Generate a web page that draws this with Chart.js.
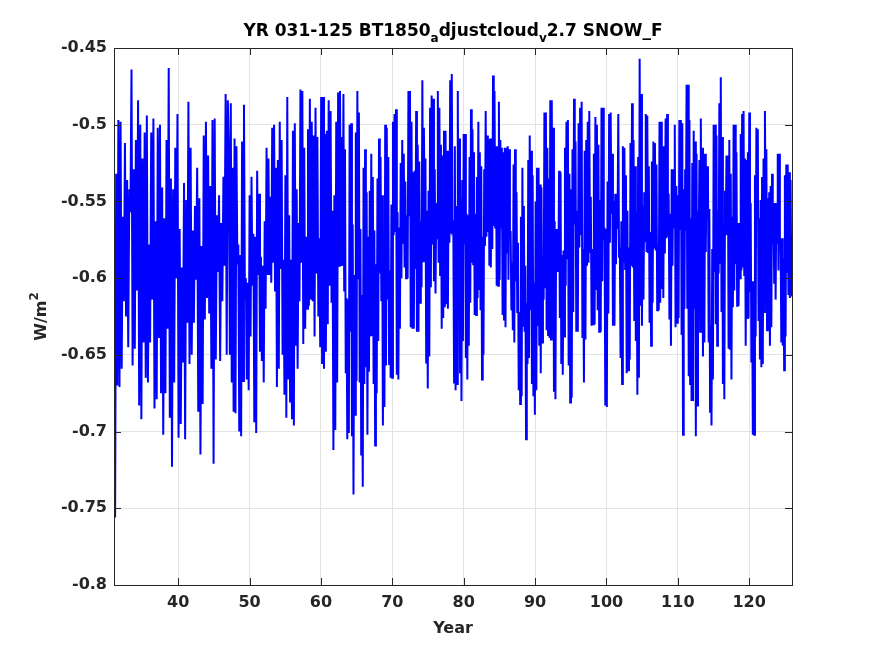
<!DOCTYPE html>
<html>
<head>
<meta charset="utf-8">
<script src="https://cdn.jsdelivr.net/npm/chart.js@4/dist/chart.umd.min.js"></script>
<style>
  body { margin: 0; background: #fff; }
  #wrap { width: 875px; height: 656px; }
</style>
</head>
<body>
<div id="wrap"><canvas id="snowChart" width="875" height="656"></canvas></div>
<script>
// segment edges in model years; values inside each segment are spread evenly
const segYears = [31.0, 47.1, 62.93, 78.76, 94.6, 110.43, 126.0];

const seg1 = [-0.676,
  -0.756, -0.532, -0.670, -0.497, -0.671, -0.498, -0.659, -0.560, -0.615, -0.512,
  -0.625, -0.536, -0.645, -0.542, -0.557, -0.464, -0.657, -0.529, -0.646, -0.510,
  -0.608, -0.484, -0.683, -0.500, -0.692, -0.522, -0.642, -0.505, -0.665, -0.494,
  -0.668, -0.578, -0.642, -0.505, -0.614, -0.496, -0.685, -0.563, -0.679, -0.502,
  -0.639, -0.500, -0.675, -0.541, -0.702, -0.561, -0.675, -0.510, -0.633, -0.463,
  -0.691, -0.535, -0.723, -0.542, -0.668, -0.515, -0.600, -0.493, -0.704, -0.568,
  -0.695, -0.593, -0.655, -0.538, -0.705, -0.549, -0.629, -0.485, -0.656, -0.515,
  -0.650, -0.569, -0.629, -0.553, -0.601, -0.528, -0.687, -0.548, -0.715, -0.579,
  -0.682, -0.507, -0.627, -0.498, -0.613, -0.520, -0.623, -0.540, -0.659, -0.497,
  -0.721, -0.496, -0.653, -0.559, -0.596, -0.546, -0.654, -0.564, -0.615, -0.534,
  -0.592, -0.480, -0.650, -0.484];

const seg2 = [
  -0.519, -0.650, -0.486, -0.668, -0.528, -0.687, -0.509, -0.688, -0.514, -0.591,
  -0.578, -0.700, -0.585, -0.703, -0.511, -0.667, -0.487, -0.612, -0.600, -0.666,
  -0.603, -0.673, -0.546, -0.638, -0.534, -0.605, -0.571, -0.694, -0.573, -0.701,
  -0.530, -0.598, -0.545, -0.648, -0.586, -0.654, -0.592, -0.668, -0.563, -0.620,
  -0.515, -0.598, -0.522, -0.598, -0.547, -0.603, -0.502, -0.590, -0.500, -0.608,
  -0.528, -0.671, -0.523, -0.659, -0.498, -0.594, -0.510, -0.650, -0.588, -0.676,
  -0.533, -0.691, -0.482, -0.666, -0.559, -0.681, -0.588, -0.692, -0.504, -0.696,
  -0.499, -0.644, -0.542, -0.659, -0.564, -0.615, -0.477, -0.590, -0.478, -0.643,
  -0.515, -0.633, -0.573, -0.620, -0.503, -0.618, -0.483, -0.614, -0.498, -0.615,
  -0.507, -0.638, -0.489, -0.597, -0.508, -0.625, -0.574, -0.645, -0.482, -0.656,
  -0.482, -0.659, -0.506, -0.648, -0.504, -0.630, -0.484, -0.605, -0.491, -0.616,
  -0.556, -0.712, -0.546, -0.699, -0.498, -0.668, -0.479, -0.592, -0.478, -0.592];

const seg3 = [
  -0.508, -0.592, -0.480, -0.608, -0.516, -0.662, -0.613, -0.705, -0.614, -0.701,
  -0.500, -0.635, -0.499, -0.703, -0.565, -0.741, -0.598, -0.689, -0.505, -0.667,
  -0.478, -0.600, -0.492, -0.668, -0.568, -0.715, -0.611, -0.736, -0.528, -0.669,
  -0.516, -0.658, -0.544, -0.702, -0.573, -0.661, -0.543, -0.638, -0.519, -0.637,
  -0.534, -0.669, -0.569, -0.709, -0.591, -0.675, -0.535, -0.641, -0.509, -0.597,
  -0.521, -0.615, -0.546, -0.696, -0.608, -0.684, -0.500, -0.657, -0.502, -0.614,
  -0.521, -0.656, -0.595, -0.665, -0.552, -0.665, -0.498, -0.572, -0.493, -0.570,
  -0.490, -0.663, -0.557, -0.666, -0.567, -0.633, -0.525, -0.600, -0.510, -0.577,
  -0.519, -0.593, -0.537, -0.600, -0.559, -0.600, -0.478, -0.559, -0.478, -0.632,
  -0.498, -0.633, -0.531, -0.633, -0.530, -0.594, -0.491, -0.635, -0.513, -0.635,
  -0.524, -0.616, -0.563, -0.606, -0.471, -0.589, -0.502, -0.570, -0.522, -0.655,
  -0.556, -0.672, -0.543, -0.651, -0.489, -0.606, -0.481, -0.578, -0.483, -0.602,
  -0.529, -0.610, -0.551, -0.574, -0.478, -0.590, -0.489, -0.598, -0.513, -0.633,
  -0.520, -0.626, -0.504, -0.619, -0.504, -0.617, -0.517, -0.620, -0.538, -0.577,
  -0.471, -0.571, -0.467, -0.568, -0.566, -0.668];

const seg4 = [
  -0.514, -0.673, -0.553, -0.669, -0.478, -0.605, -0.509, -0.662, -0.548, -0.680,
  -0.536, -0.641, -0.506, -0.578, -0.506, -0.652, -0.558, -0.666, -0.559, -0.644,
  -0.521, -0.616, -0.490, -0.590, -0.503, -0.591, -0.518, -0.624, -0.558, -0.624,
  -0.534, -0.613, -0.498, -0.607, -0.518, -0.621, -0.527, -0.666, -0.573, -0.650,
  -0.529, -0.579, -0.491, -0.573, -0.507, -0.570, -0.510, -0.592, -0.509, -0.593,
  -0.511, -0.581, -0.468, -0.566, -0.478, -0.567, -0.514, -0.605, -0.514, -0.605,
  -0.485, -0.601, -0.510, -0.567, -0.515, -0.624, -0.518, -0.627, -0.515, -0.632,
  -0.515, -0.584, -0.514, -0.601, -0.516, -0.570, -0.570, -0.621, -0.590, -0.634,
  -0.526, -0.642, -0.516, -0.602, -0.544, -0.622, -0.577, -0.673, -0.622, -0.682,
  -0.560, -0.677, -0.528, -0.631, -0.553, -0.635, -0.592, -0.705, -0.616, -0.656,
  -0.523, -0.652, -0.507, -0.621, -0.517, -0.669, -0.533, -0.677, -0.603, -0.689,
  -0.550, -0.673, -0.528, -0.631, -0.528, -0.644, -0.539, -0.662, -0.541, -0.642,
  -0.587, -0.614, -0.492, -0.606, -0.492, -0.634, -0.515, -0.637, -0.535, -0.639,
  -0.484, -0.640, -0.484, -0.591, -0.502, -0.674, -0.563, -0.679, -0.568, -0.596,
  -0.590, -0.596, -0.530, -0.626, -0.531, -0.656, -0.585, -0.663, -0.582, -0.638,
  -0.515, -0.605, -0.498, -0.587];

const seg5 = [
  -0.497, -0.657, -0.532, -0.681, -0.542, -0.678, -0.516, -0.622, -0.483, -0.565,
  -0.511, -0.635, -0.556, -0.635, -0.499, -0.580, -0.489, -0.572, -0.485, -0.639,
  -0.581, -0.668, -0.517, -0.640, -0.510, -0.592, -0.498, -0.590, -0.491, -0.583,
  -0.547, -0.631, -0.581, -0.630, -0.519, -0.630, -0.495, -0.607, -0.500, -0.621,
  -0.513, -0.635, -0.549, -0.635, -0.489, -0.602, -0.489, -0.575, -0.567, -0.683,
  -0.568, -0.684, -0.537, -0.623, -0.493, -0.577, -0.492, -0.558, -0.519, -0.631,
  -0.550, -0.631, -0.545, -0.591, -0.546, -0.568, -0.493, -0.586, -0.580, -0.652,
  -0.563, -0.669, -0.514, -0.590, -0.515, -0.594, -0.533, -0.662, -0.556, -0.660,
  -0.580, -0.653, -0.512, -0.592, -0.486, -0.593, -0.510, -0.628, -0.527, -0.641,
  -0.557, -0.676, -0.521, -0.665, -0.457, -0.618, -0.480, -0.631, -0.553, -0.614,
  -0.544, -0.576, -0.493, -0.583, -0.494, -0.583, -0.527, -0.629, -0.570, -0.644,
  -0.524, -0.616, -0.511, -0.580, -0.512, -0.582, -0.526, -0.621, -0.578, -0.621,
  -0.498, -0.616, -0.498, -0.607, -0.514, -0.613, -0.514, -0.584, -0.496, -0.574,
  -0.493, -0.573, -0.545, -0.627, -0.558, -0.644, -0.529, -0.592, -0.529, -0.567,
  -0.500, -0.632, -0.540, -0.629, -0.546, -0.626, -0.497, -0.568];

const seg6 = [
  -0.497, -0.637, -0.499, -0.702, -0.542, -0.620, -0.529, -0.569, -0.474, -0.620,
  -0.474, -0.664, -0.497, -0.669, -0.561, -0.680, -0.525, -0.680, -0.504, -0.620,
  -0.511, -0.703, -0.519, -0.683, -0.556, -0.583, -0.523, -0.635, -0.496, -0.603,
  -0.515, -0.651, -0.519, -0.642, -0.519, -0.583, -0.527, -0.561, -0.527, -0.642,
  -0.555, -0.687, -0.631, -0.696, -0.581, -0.666, -0.500, -0.596, -0.500, -0.630,
  -0.507, -0.644, -0.556, -0.597, -0.486, -0.590, -0.469, -0.622, -0.508, -0.669,
  -0.572, -0.679, -0.543, -0.572, -0.520, -0.571, -0.520, -0.646, -0.510, -0.646,
  -0.532, -0.666, -0.560, -0.619, -0.500, -0.608, -0.500, -0.591, -0.518, -0.618,
  -0.564, -0.618, -0.564, -0.600, -0.506, -0.595, -0.493, -0.593, -0.491, -0.598,
  -0.522, -0.644, -0.523, -0.626, -0.518, -0.626, -0.492, -0.609, -0.551, -0.655,
  -0.602, -0.702, -0.602, -0.702, -0.533, -0.638, -0.502, -0.561, -0.503, -0.628,
  -0.561, -0.653, -0.549, -0.658, -0.534, -0.656, -0.522, -0.622, -0.491, -0.564,
  -0.516, -0.634, -0.548, -0.633, -0.544, -0.644, -0.540, -0.632, -0.532, -0.578,
  -0.551, -0.603, -0.551, -0.614, -0.551, -0.577, -0.519, -0.595, -0.519, -0.582,
  -0.574, -0.642, -0.574, -0.644, -0.587, -0.660, -0.533, -0.638, -0.526, -0.596,
  -0.526, -0.611, -0.531, -0.613, -0.536, -0.601, -0.612];

const xTicks = [40, 50, 60, 70, 80, 90, 100, 110, 120];
const yTicks = [-0.8, -0.75, -0.7, -0.65, -0.6, -0.55, -0.5, -0.45];
const yTickLabels = ['-0.8', '-0.75', '-0.7', '-0.65', '-0.6', '-0.55', '-0.5', '-0.45'];

const segments = [seg1, seg2, seg3, seg4, seg5, seg6];
const points = [];
segments.forEach((vals, i) => {
    const a = segYears[i], b = segYears[i + 1];
    const n = (i === segments.length - 1) ? vals.length - 1 : vals.length;
    vals.forEach((v, k) => points.push({ x: a + (b - a) * k / n, y: v }));
});

const axisColor = '#262626';
const tickFont = { family: '"DejaVu Sans"', size: 16, weight: 'bold' };

// box, inward ticks, title and axis labels in MATLAB style
const matlabFrame = {
    id: 'matlabFrame',
    afterDraw(chart) {
        const ctx = chart.ctx;
        const area = chart.chartArea;
        const xs = chart.scales.x, ys = chart.scales.y;
        ctx.save();
        ctx.strokeStyle = axisColor;
        ctx.lineWidth = 1;
        ctx.beginPath();
        xTicks.forEach(t => {
            const px = Math.round(xs.getPixelForValue(t)) + 0.5;
            ctx.moveTo(px, area.bottom); ctx.lineTo(px, area.bottom - 7);
            ctx.moveTo(px, area.top); ctx.lineTo(px, area.top + 7);
        });
        yTicks.forEach(t => {
            const py = Math.round(ys.getPixelForValue(t)) + 0.5;
            ctx.moveTo(area.left, py); ctx.lineTo(area.left + 7, py);
            ctx.moveTo(area.right, py); ctx.lineTo(area.right - 7, py);
        });
        ctx.stroke();
        ctx.strokeRect(Math.round(area.left) + 0.5, Math.round(area.top) + 0.5,
            Math.round(area.right - area.left), Math.round(area.bottom - area.top));

        ctx.fillStyle = '#000';
        ctx.textBaseline = 'alphabetic';
        const parts = [
            { t: 'YR 031-125 BT1850', sub: false },
            { t: 'a', sub: true },
            { t: 'djustcloud', sub: false },
            { t: 'v', sub: true },
            { t: '2.7 SNOW_F', sub: false }
        ];
        const big = 'bold 17px "DejaVu Sans"', small = 'bold 12px "DejaVu Sans"';
        let total = 0;
        parts.forEach(p => { ctx.font = p.sub ? small : big; p.w = ctx.measureText(p.t).width; total += p.w; });
        let x = (area.left + area.right) / 2 - total / 2;
        parts.forEach(p => {
            ctx.font = p.sub ? small : big;
            ctx.fillText(p.t, x, p.sub ? 42 : 36);
            x += p.w;
        });

        const lab = 'bold 16px "DejaVu Sans"';
        ctx.fillStyle = axisColor;
        ctx.font = lab;
        ctx.textAlign = 'center';
        ctx.fillText('Year', (area.left + area.right) / 2, 633);

        ctx.translate(46, (area.top + area.bottom) / 2);
        ctx.rotate(-Math.PI / 2);
        ctx.textAlign = 'left';
        const w1 = ctx.measureText('W/m').width;
        ctx.font = small;
        const w2 = ctx.measureText('2').width;
        const sx = -(w1 + w2) / 2;
        ctx.font = lab;
        ctx.fillText('W/m', sx, 0);
        ctx.font = small;
        ctx.fillText('2', sx + w1, -8);
        ctx.restore();
    }
};

new Chart(document.getElementById('snowChart'), {
    type: 'line',
    data: {
        datasets: [{
            data: points,
            borderColor: '#0000ff',
            borderWidth: 2,
            pointRadius: 0,
            tension: 0,
            fill: false
        }]
    },
    options: {
        responsive: false,
        animation: false,
        devicePixelRatio: 1,
        parsing: false,
        layout: { padding: { top: 48, right: 83, left: 0, bottom: 0 } },
        plugins: { legend: { display: false }, title: { display: false }, tooltip: { enabled: false } },
        scales: {
            x: {
                type: 'linear',
                min: 31,
                max: 126,
                afterBuildTicks: s => { s.ticks = xTicks.map(v => ({ value: v })); },
                afterFit: s => { s.height = 71; },
                grid: { color: '#e3e3e3', drawTicks: false },
                border: { display: false },
                ticks: { font: tickFont, color: axisColor, padding: 8, maxRotation: 0, autoSkip: false }
            },
            y: {
                type: 'linear',
                min: -0.8,
                max: -0.45,
                afterBuildTicks: s => { s.ticks = yTicks.map(v => ({ value: v })); },
                afterFit: s => { s.width = 114; },
                grid: { color: '#e3e3e3', drawTicks: false },
                border: { display: false },
                ticks: {
                    font: tickFont, color: axisColor, padding: 7, autoSkip: false,
                    callback: (v) => yTickLabels[yTicks.indexOf(v)]
                }
            }
        }
    },
    plugins: [matlabFrame]
});
</script>
</body>
</html>
